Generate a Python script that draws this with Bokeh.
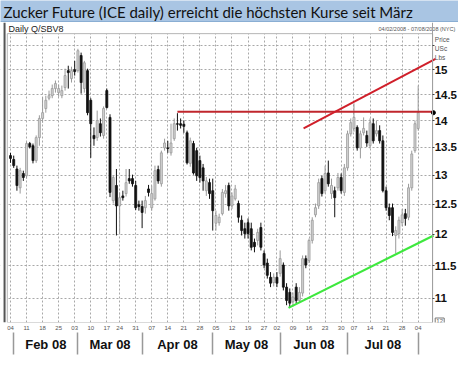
import numpy as np
from bokeh.plotting import figure
from bokeh.layouts import column
from bokeh.models import FixedTicker, LinearAxis, Range1d, ColumnDataSource
from bokeh.core.properties import value
from bokeh.embed import file_html
from bokeh.resources import INLINE

# ---------------- data ----------------
title_text = "Zucker Future (ICE daily) erreicht die höchsten Kurse seit März"
symbol_text = "Daily Q/SBV8"
range_text = "04/02/2008 - 07/08/2008 (NYC)"
unit_texts = ["Price", "USc", "Lbs"]
unit_prices = [15.62, 15.43, 15.25]
corner_text = "12"

week_pos = [0, 5, 10, 15, 20, 25, 30, 34, 39, 44, 49, 54, 59, 64, 69, 74, 79,
            83, 88, 93, 98, 103, 107, 112, 117, 122, 127]
week_labels = ["04", "11", "18", "25", "03", "10", "17", "24", "31", "07", "14",
               "21", "28", "05", "12", "19", "27", "02", "09", "16", "23", "30",
               "07", "14", "21", "28", "04"]
month_first_day = [0, 20, 40, 62, 83, 104, 126]
month_names = ["Feb 08", "Mar 08", "Apr 08", "May 08", "Jun 08", "Jul 08"]

price_ticks = [11, 11.5, 12, 12.5, 13, 13.5, 14, 14.5, 15, 15.5]
price_labels = ["11", "11.5", "12", "12.5", "13", "13.5", "14", "14.5", "15", ""]

opens = [13.35, 13.28, 13.11, 12.78, 13.03, 12.99, 13.57, 13.53, 13.26, 13.68,
         14.04, 14.23, 14.43, 14.48, 14.62, 14.54, 14.48, 14.64, 14.98, 14.82,
         15.00, 14.98, 15.29, 14.62, 14.98, 14.39, 13.72, 13.68, 13.94, 13.72,
         14.58, 14.06, 12.56, 12.82, 12.47, 12.64, 12.68, 12.94, 12.94, 12.82,
         12.49, 12.46, 12.44, 12.76, 12.44, 12.59, 13.10, 12.85, 13.49, 13.49,
         13.40, 13.66, 13.94, 13.94, 13.93, 13.77, 13.21, 13.57, 13.44, 13.26,
         13.13, 12.73, 12.87, 12.73, 12.18, 12.19, 12.34, 12.68, 12.82, 12.47,
         12.59, 12.51, 12.23, 12.09, 12.19, 12.09, 11.87, 11.90, 12.11, 11.69,
         11.54, 11.32, 11.24, 11.32, 11.38, 11.51, 11.17, 11.09, 10.95, 11.17,
         10.97, 11.08, 11.61, 11.58, 11.90, 12.32, 12.47, 12.94, 12.73, 13.04,
         12.68, 12.73, 12.78, 12.96, 12.70, 13.13, 13.75, 13.85, 13.87, 13.49,
         13.77, 13.72, 13.53, 13.94, 13.75, 13.81, 13.62, 12.73, 12.44, 12.44,
         11.98, 12.01, 12.19, 12.34, 12.28, 12.78, 13.44, 13.85]
highs = [13.40, 13.35, 13.17, 13.13, 13.08, 13.60, 13.60, 13.57, 13.72, 14.10,
         14.45, 14.48, 14.58, 14.70, 14.78, 14.70, 14.68, 15.02, 15.08, 15.06,
         15.18, 15.43, 15.35, 15.18, 15.02, 14.43, 13.87, 14.19, 14.04, 14.27,
         14.62, 14.12, 12.99, 13.11, 12.70, 12.73, 13.11, 13.11, 13.01, 12.90,
         12.56, 12.56, 12.64, 12.83, 12.82, 13.17, 13.17, 13.44, 13.66, 13.62,
         13.94, 14.04, 14.14, 14.04, 14.00, 13.81, 13.68, 13.62, 13.49, 13.35,
         13.20, 12.97, 12.94, 12.94, 12.39, 12.34, 12.76, 12.83, 12.87, 12.70,
         12.83, 12.56, 12.31, 12.19, 12.26, 12.19, 11.93, 12.09, 12.19, 11.74,
         11.61, 11.40, 11.38, 11.40, 11.74, 11.55, 11.23, 11.15, 11.09, 11.23,
         11.17, 11.66, 11.66, 11.93, 12.28, 12.51, 12.94, 12.99, 13.17, 13.26,
         12.94, 12.80, 13.04, 13.03, 13.20, 13.81, 14.04, 14.33, 13.91, 13.81,
         14.06, 13.81, 14.04, 14.04, 14.00, 13.91, 13.72, 12.80, 12.51, 12.51,
         12.13, 12.29, 12.42, 12.42, 12.85, 13.44, 14.00, 14.68]
lows = [13.22, 13.13, 12.73, 12.68, 12.90, 12.94, 13.48, 13.21, 13.22, 13.53,
        13.96, 14.15, 14.39, 14.43, 14.54, 14.46, 14.43, 14.58, 14.62, 14.74,
        14.88, 14.94, 14.52, 14.54, 14.10, 13.31, 13.53, 13.62, 13.70, 13.66,
        14.23, 12.62, 12.51, 11.98, 12.01, 12.56, 12.63, 12.85, 12.80, 12.40,
        12.39, 12.10, 12.34, 12.63, 12.39, 12.56, 12.85, 12.80, 13.44, 13.40,
        13.35, 13.62, 13.81, 13.85, 13.77, 13.19, 13.15, 13.01, 12.90, 12.87,
        12.73, 12.64, 12.59, 12.06, 12.06, 12.14, 12.31, 12.61, 12.39, 12.42,
        12.56, 12.19, 11.98, 11.93, 11.93, 11.74, 11.71, 11.82, 11.74, 11.46,
        11.30, 11.17, 11.18, 11.17, 11.33, 11.12, 10.90, 10.86, 10.88, 10.93,
        10.95, 11.03, 11.46, 11.54, 11.85, 12.28, 12.42, 12.63, 12.68, 12.80,
        12.59, 12.28, 12.73, 12.68, 12.64, 13.08, 13.70, 13.79, 13.44, 13.30,
        13.72, 13.51, 13.48, 13.57, 13.70, 13.57, 12.70, 12.39, 12.23, 11.97,
        11.69, 11.93, 12.13, 12.14, 12.23, 12.73, 13.40, 13.81]
closes = [13.30, 13.17, 12.82, 13.08, 12.96, 13.57, 13.51, 13.26, 13.68, 14.04,
          14.15, 14.39, 14.48, 14.62, 14.72, 14.62, 14.58, 14.88, 14.94, 14.98,
          14.96, 15.39, 14.74, 15.14, 14.15, 13.94, 13.66, 14.00, 13.77, 14.23,
          14.25, 12.70, 12.96, 12.47, 12.61, 12.61, 12.87, 12.90, 12.85, 12.44,
          12.46, 12.36, 12.56, 12.70, 12.68, 13.08, 12.90, 13.40, 13.58, 13.48,
          13.58, 13.94, 13.93, 13.91, 13.89, 13.22, 13.62, 13.04, 12.99, 12.96,
          12.90, 12.90, 12.68, 12.39, 12.31, 12.28, 12.70, 12.73, 12.47, 12.64,
          12.76, 12.28, 12.06, 12.01, 12.01, 11.79, 11.80, 12.03, 11.79, 11.51,
          11.35, 11.23, 11.32, 11.23, 11.61, 11.17, 10.97, 10.93, 11.02, 10.97,
          11.09, 11.61, 11.51, 11.90, 12.23, 12.44, 12.87, 12.68, 13.03, 12.85,
          12.82, 12.61, 12.96, 12.73, 13.13, 13.75, 13.96, 14.06, 13.49, 13.75,
          13.85, 13.58, 13.96, 13.62, 13.81, 13.62, 12.73, 12.44, 12.31, 12.03,
          12.06, 12.23, 12.32, 12.26, 12.78, 13.38, 13.94, 14.15]

resistance_level = 14.17
resistance_start = 52
red_trend_x = [91.3, 132.4]
red_trend_y = [13.85, 15.22]
green_trend_x = [86.6, 131.8]
green_trend_y = [10.86, 11.98]

# ---------------- layout constants ----------------
W = 458
BAR_H = 22          # blue title bar height
MAIN_H = 346        # main figure height
X0, X1 = -3.115, 139.56      # full-width index range
CH_L, CH_R = -1.0, 131.5     # chart box (x, index units)
Y_BOT, Y_TOP = 10.647, 15.99 # full-height price range
CH_TOP = 15.75               # chart box top (price)
BORDER_X = -1.85

FONT = value("Liberation Sans")

# ---------------- title bar ----------------
ta = figure(width=W, height=BAR_H, output_backend="svg", toolbar_location=None,
            x_range=Range1d(0, W), y_range=Range1d(BAR_H, 0),
            min_border=0, x_axis_location=None, y_axis_location=None)
ta.grid.visible = False
ta.outline_line_color = None
ta.background_fill_color = "#a9c5e3"
ta.border_fill_color = "#a9c5e3"
ta.quad(left=[0], right=[W], top=[BAR_H - 1.5], bottom=[BAR_H],
        fill_color="#8aaed3", line_color=None)
ta.text(x=[3], y=[BAR_H / 2 + 0.5], text=[title_text], text_font=value("Lato"),
        text_font_size="15px", text_color="#111111", text_baseline="middle")

# ---------------- main chart ----------------
p = figure(width=W, height=MAIN_H, output_backend="svg", toolbar_location=None,
           y_axis_type="log", y_axis_location="right",
           x_range=Range1d(X0, X1), y_range=Range1d(Y_BOT, Y_TOP),
           min_border_left=0, min_border_right=0, min_border_top=0,
           min_border_bottom=46)
p.background_fill_color = "white"
p.border_fill_color = "white"
p.outline_line_color = None

# grids
p.xgrid.grid_line_color = "#a8a8a8"
p.xgrid.grid_line_dash = "2 2"
p.ygrid.grid_line_color = "#a8a8a8"
p.ygrid.grid_line_dash = "2 2"

# white masks outside the chart box (cover grid lines)
p.quad(left=[X0, CH_R, X0], right=[CH_L, X1, X1],
       bottom=[Y_BOT, Y_BOT, CH_TOP], top=[Y_TOP, Y_TOP, Y_TOP],
       fill_color="white", line_color=None)
# chart box outline
p.quad(left=[CH_L], right=[CH_R], bottom=[Y_BOT], top=[CH_TOP],
       fill_color=None, line_color="#b5b5b5", line_width=1)
# dark panel border on the left
p.segment(x0=[BORDER_X], y0=[Y_BOT], x1=[BORDER_X], y1=[Y_TOP],
          line_color="#555555", line_width=2)

# right price axis, drawn at the chart box edge
ya = p.yaxis[0]
ya.fixed_location = CH_R
ya.ticker = FixedTicker(ticks=price_ticks)
ya.major_label_overrides = {t: l for t, l in zip(price_ticks, price_labels)}
ya.axis_line_color = "#a0a0a0"
ya.major_tick_out = 2
ya.major_tick_in = 0
ya.major_tick_line_color = "#404040"
ya.minor_tick_line_color = None
ya.major_label_text_font = "Liberation Sans"
ya.major_label_text_font_size = "11.5px"
ya.major_label_text_font_style = "bold"
ya.major_label_text_color = "#111111"
ya.major_label_standoff = 0

# week axis
xa = p.xaxis[0]
xa.ticker = FixedTicker(ticks=week_pos)
xa.major_label_overrides = {t: l for t, l in zip(week_pos, week_labels)}
xa.axis_line_color = None
xa.major_tick_out = 0
xa.major_tick_in = 0
xa.minor_tick_out = 0
xa.minor_tick_line_color = None
xa.major_label_text_font_size = "6px"
xa.major_label_text_color = "#555555"
xa.major_label_standoff = 3

# month label axis
month_sep = [d + 1 for d in month_first_day]
month_mid = [(a + b) / 2 for a, b in zip(month_sep[:-1], month_sep[1:])]
ma = LinearAxis(ticker=FixedTicker(ticks=month_mid, minor_ticks=[]))
ma.major_label_overrides = {t: l for t, l in zip(month_mid, month_names)}
ma.axis_line_color = None
ma.major_tick_line_color = None
ma.major_tick_out = 0
ma.major_tick_in = 0
ma.minor_tick_out = 0
ma.minor_tick_line_color = None
ma.major_label_text_font = "Liberation Sans"
ma.major_label_text_font_size = "13px"
ma.major_label_text_font_style = "bold"
ma.major_label_text_color = "#111111"
ma.major_label_standoff = 4
p.add_layout(ma, "below")

# month separator axis (ticks reach up into the month row)
sa = LinearAxis(ticker=FixedTicker(ticks=[], minor_ticks=month_sep))
sa.axis_line_color = None
sa.major_tick_line_color = None
sa.major_tick_out = 0
sa.major_tick_in = 0
sa.minor_tick_out = 0
sa.minor_tick_in = 22
sa.minor_tick_line_color = "#999999"
sa.minor_tick_line_width = 1.5
sa.major_label_text_font_size = "1px"
sa.major_label_standoff = 0
p.add_layout(sa, "below")

# candles
idx = np.arange(len(closes))
o = np.array(opens); c = np.array(closes)
h = np.array(highs); l = np.array(lows)
up = c >= o
src_up = ColumnDataSource(dict(x=idx[up], o=o[up], c=c[up], h=h[up], l=l[up]))
src_dn = ColumnDataSource(dict(x=idx[~up], o=o[~up], c=c[~up], h=h[~up], l=l[~up]))
p.segment("x", "h", "x", "l", source=src_up, line_color="#9a9a9a", line_width=1)
p.vbar(x="x", width=0.62, top="c", bottom="o", source=src_up,
       fill_color="#d2d2d2", line_color="#9a9a9a", line_width=0.8)
p.segment("x", "h", "x", "l", source=src_dn, line_color="#111111", line_width=1)
p.vbar(x="x", width=0.62, top="o", bottom="c", source=src_dn,
       fill_color="#111111", line_color="#111111", line_width=0.8)

# trend lines
p.line([resistance_start, CH_R], [resistance_level, resistance_level],
       line_color="#c0262c", line_width=2)
p.line(red_trend_x, red_trend_y, line_color="#d01f2a", line_width=2)
p.line(green_trend_x, green_trend_y, line_color="#3ee83e", line_width=2.2)

# last price marker
p.scatter(x=[CH_R + 0.25], y=[closes[-1]], size=4, marker="circle",
          fill_color="black", line_color="black")

# header texts
hdr_y = 15.86
p.text(x=[CH_L + 0.4], y=[hdr_y], text=[symbol_text], text_font=FONT,
       text_font_size="9px", text_color="#222222", text_baseline="middle")
p.text(x=[X1 - 1.0], y=[hdr_y], text=[range_text], text_font=FONT,
       text_font_size="5.5px", text_color="#555555", text_baseline="middle",
       text_align="right")
p.text(x=[CH_R + 0.7] * len(unit_texts), y=unit_prices, text=unit_texts,
       text_font=FONT, text_font_size="6.5px", text_color="#555555",
       text_baseline="middle")
p.rect(x=[CH_R + 2.2], y=[Y_BOT], width=9, height=9, width_units="screen",
       height_units="screen", fill_color=None, line_color="#777777")
p.text(x=[CH_R + 2.2], y=[Y_BOT], text=[corner_text], text_font=FONT,
       text_font_size="6px", text_color="#555555", text_baseline="bottom",
       text_align="center")

open("out.html", "w").write(file_html(column(ta, p, spacing=0), INLINE))
